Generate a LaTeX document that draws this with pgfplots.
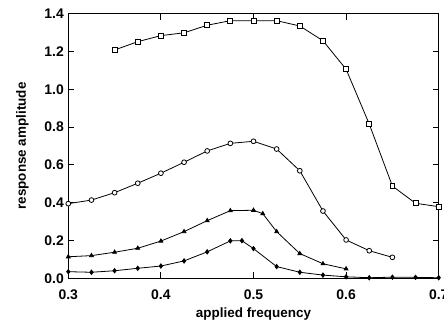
\documentclass[border=0pt]{standalone}
\usepackage{fontspec}
\setmainfont{Liberation Sans}
\usepackage{pgfplots}
\pgfplotsset{compat=1.18}
\begin{document}
\begin{tikzpicture}
\begin{axis}[
  scale only axis, width=370.4bp, height=264.6bp,
  xmin=0.3, xmax=0.7, ymin=0, ymax=1.4,
  xtick={0.3,0.4,0.5,0.6,0.7},
  ytick={0,0.2,0.4,0.6,0.8,1.0,1.2,1.4},
  /pgf/number format/fixed, /pgf/number format/fixed zerofill,
  /pgf/number format/precision=1,
  /pgf/number format/assume math mode=true,
  tick label style={font=\fontsize{14}{16}\selectfont\bfseries},
  xticklabel style={yshift=-8pt},
  yticklabel style={xshift=-1pt},
  tick align=inside, major tick length=6pt,
  axis line style={line width=1.1pt},
  tick style={line width=0.9pt, black},
  xlabel={applied frequency}, ylabel={response amplitude},
  label style={font=\fontsize{13.5}{16}\selectfont\bfseries},
  xlabel style={yshift=-1pt},
  ylabel style={yshift=9pt},
  every axis plot/.append style={black, line width=0.8pt},
]
\coordinate (sw) at (rel axis cs:0,0);
\coordinate (ne) at (rel axis cs:1,1);
\addplot[mark=square*, mark options={fill=white, scale=1.25, line width=0.8pt}] coordinates {
(0.35,1.208) (0.375,1.252) (0.40,1.284) (0.425,1.299) (0.45,1.339) (0.475,1.363)
(0.50,1.363) (0.525,1.363) (0.55,1.335) (0.575,1.257) (0.60,1.106) (0.625,0.816)
(0.65,0.488) (0.675,0.397) (0.70,0.379)};
\addplot[mark=*, mark options={fill=white, scale=1.2, line width=0.8pt}] coordinates {
(0.30,0.395) (0.325,0.414) (0.35,0.453) (0.375,0.503) (0.40,0.556) (0.425,0.614)
(0.45,0.674) (0.475,0.714) (0.50,0.725) (0.525,0.684) (0.55,0.569) (0.575,0.356)
(0.60,0.203) (0.625,0.146) (0.65,0.111)};
\addplot[mark=triangle*, mark options={fill=black, scale=1.1}] coordinates {
(0.30,0.114) (0.325,0.120) (0.35,0.138) (0.375,0.159) (0.40,0.197) (0.425,0.247)
(0.45,0.305) (0.475,0.358) (0.50,0.360) (0.51,0.342) (0.525,0.247) (0.55,0.131)
(0.575,0.077) (0.60,0.050)};
\addplot[mark=diamond*, mark options={fill=black, scale=1.1}] coordinates {
(0.30,0.035) (0.325,0.032) (0.35,0.040) (0.375,0.053) (0.40,0.065) (0.425,0.092)
(0.45,0.140) (0.475,0.198) (0.4875,0.199) (0.50,0.157) (0.525,0.062) (0.55,0.032)
(0.575,0.017) (0.60,0.008) (0.625,0.003) (0.65,0.006) (0.675,0.005) (0.70,0.003)};
\end{axis}
\pgfresetboundingbox
\path[use as bounding box] ([shift={(-68.3bp,-42.7bp)}]sw) rectangle ([shift={(5.3bp,13.7bp)}]ne);
\end{tikzpicture}
\end{document}
